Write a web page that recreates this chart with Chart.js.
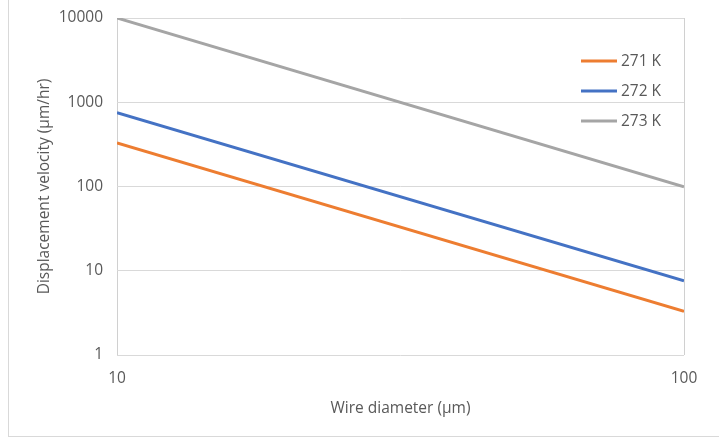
<!DOCTYPE html>
<html>
<head>
<meta charset="utf-8">
<script src="https://cdn.jsdelivr.net/npm/chart.js@4/dist/chart.umd.min.js"></script>
<style>
  html, body { margin: 0; padding: 0; background: #ffffff; }
  #wrap { width: 719px; height: 439px; position: relative; }
</style>
</head>
<body>
<div id="wrap"><canvas id="c" width="719" height="439"></canvas></div>
<script>
// Wire diameter (µm) and displacement velocity (µm/hr) at three temperatures
const diameters = [10, 100];
const v271 = [330, 3.3];
const v272 = [750, 7.6];
const v273 = [10000, 99];
const seriesLabels = ['271 K', '272 K', '273 K'];
const yTicks = [1, 10, 100, 1000, 10000];
const xTicks = [10, 100];

const FONT = 'Open Sans';
const FSIZE = 15.5;
const TEXT = '#595959';

function pts(values) {
  return diameters.map((d, i) => ({ x: d, y: values[i] }));
}

// Legend placed inside the plot area, top-right
const insideLegend = {
  id: 'insideLegend',
  afterDatasetsDraw(chart) {
    const ctx = chart.ctx;
    ctx.save();
    ctx.font = FSIZE + 'px "' + FONT + '"';
    ctx.textBaseline = 'middle';
    ctx.textAlign = 'left';
    chart.data.datasets.forEach((ds, i) => {
      const y = 61 + i * 30;
      ctx.strokeStyle = ds.borderColor;
      ctx.lineWidth = 3;
      ctx.beginPath();
      ctx.moveTo(581, y);
      ctx.lineTo(617, y);
      ctx.stroke();
      ctx.fillStyle = TEXT;
      ctx.fillText(ds.label, 621, y + 1);
    });
    ctx.restore();
  }
};

// Outer chart frame
const frame = {
  id: 'frame',
  beforeDraw(chart) {
    const ctx = chart.ctx;
    ctx.save();
    ctx.fillStyle = '#ffffff';
    ctx.fillRect(0, 0, chart.width, chart.height);
    ctx.strokeStyle = '#d9d9d9';
    ctx.lineWidth = 1;
    ctx.strokeRect(8.5, -5, 730, 441.5);
    ctx.restore();
  }
};

new Chart(document.getElementById('c'), {
  type: 'line',
  data: {
    datasets: [
      { label: seriesLabels[0], data: pts(v271), borderColor: '#ED7D31' },
      { label: seriesLabels[1], data: pts(v272), borderColor: '#4472C4' },
      { label: seriesLabels[2], data: pts(v273), borderColor: '#A5A5A5' }
    ].map(d => Object.assign(d, {
      borderWidth: 3, pointRadius: 0, tension: 0, fill: false,
      backgroundColor: d.borderColor, borderCapStyle: 'butt'
    }))
  },
  options: {
    responsive: false,
    animation: false,
    devicePixelRatio: 1,
    layout: { padding: { top: 18, right: 35, left: 0, bottom: 0 } },
    plugins: { legend: { display: false }, tooltip: { enabled: false } },
    scales: {
      x: {
        type: 'logarithmic',
        min: 10, max: 100,
        afterBuildTicks(s) { s.ticks = xTicks.map(v => ({ value: v })); },
        afterFit(s) { s.height = 84; s.paddingLeft = 0; s.paddingRight = 0; },
        ticks: {
          color: TEXT, font: { family: FONT, size: FSIZE }, padding: 14,
          maxRotation: 0, autoSkip: false,
          callback: v => String(v)
        },
        grid: { color: '#d0d0d0', drawTicks: false },
        border: { display: false },
        title: {
          display: true, text: 'Wire diameter (µm)', color: TEXT,
          font: { family: FONT, size: FSIZE }, padding: { top: 0, bottom: 21 }
        }
      },
      y: {
        type: 'logarithmic',
        min: 1, max: 10000,
        afterBuildTicks(s) { s.ticks = yTicks.map(v => ({ value: v })); },
        afterFit(s) { s.width = 117; s.paddingTop = 0; s.paddingBottom = 0; },
        ticks: {
          color: TEXT, font: { family: FONT, size: FSIZE }, padding: 14,
          autoSkip: false,
          callback: v => String(v)
        },
        grid: { color: '#d9d9d9', drawTicks: false },
        border: { display: false },
        title: {
          display: true, text: 'Displacement velocity (µm/hr)', color: TEXT,
          font: { family: FONT, size: FSIZE }, padding: { top: 35, bottom: 0 }
        }
      }
    }
  },
  plugins: [frame, insideLegend]
});
</script>
</body>
</html>
